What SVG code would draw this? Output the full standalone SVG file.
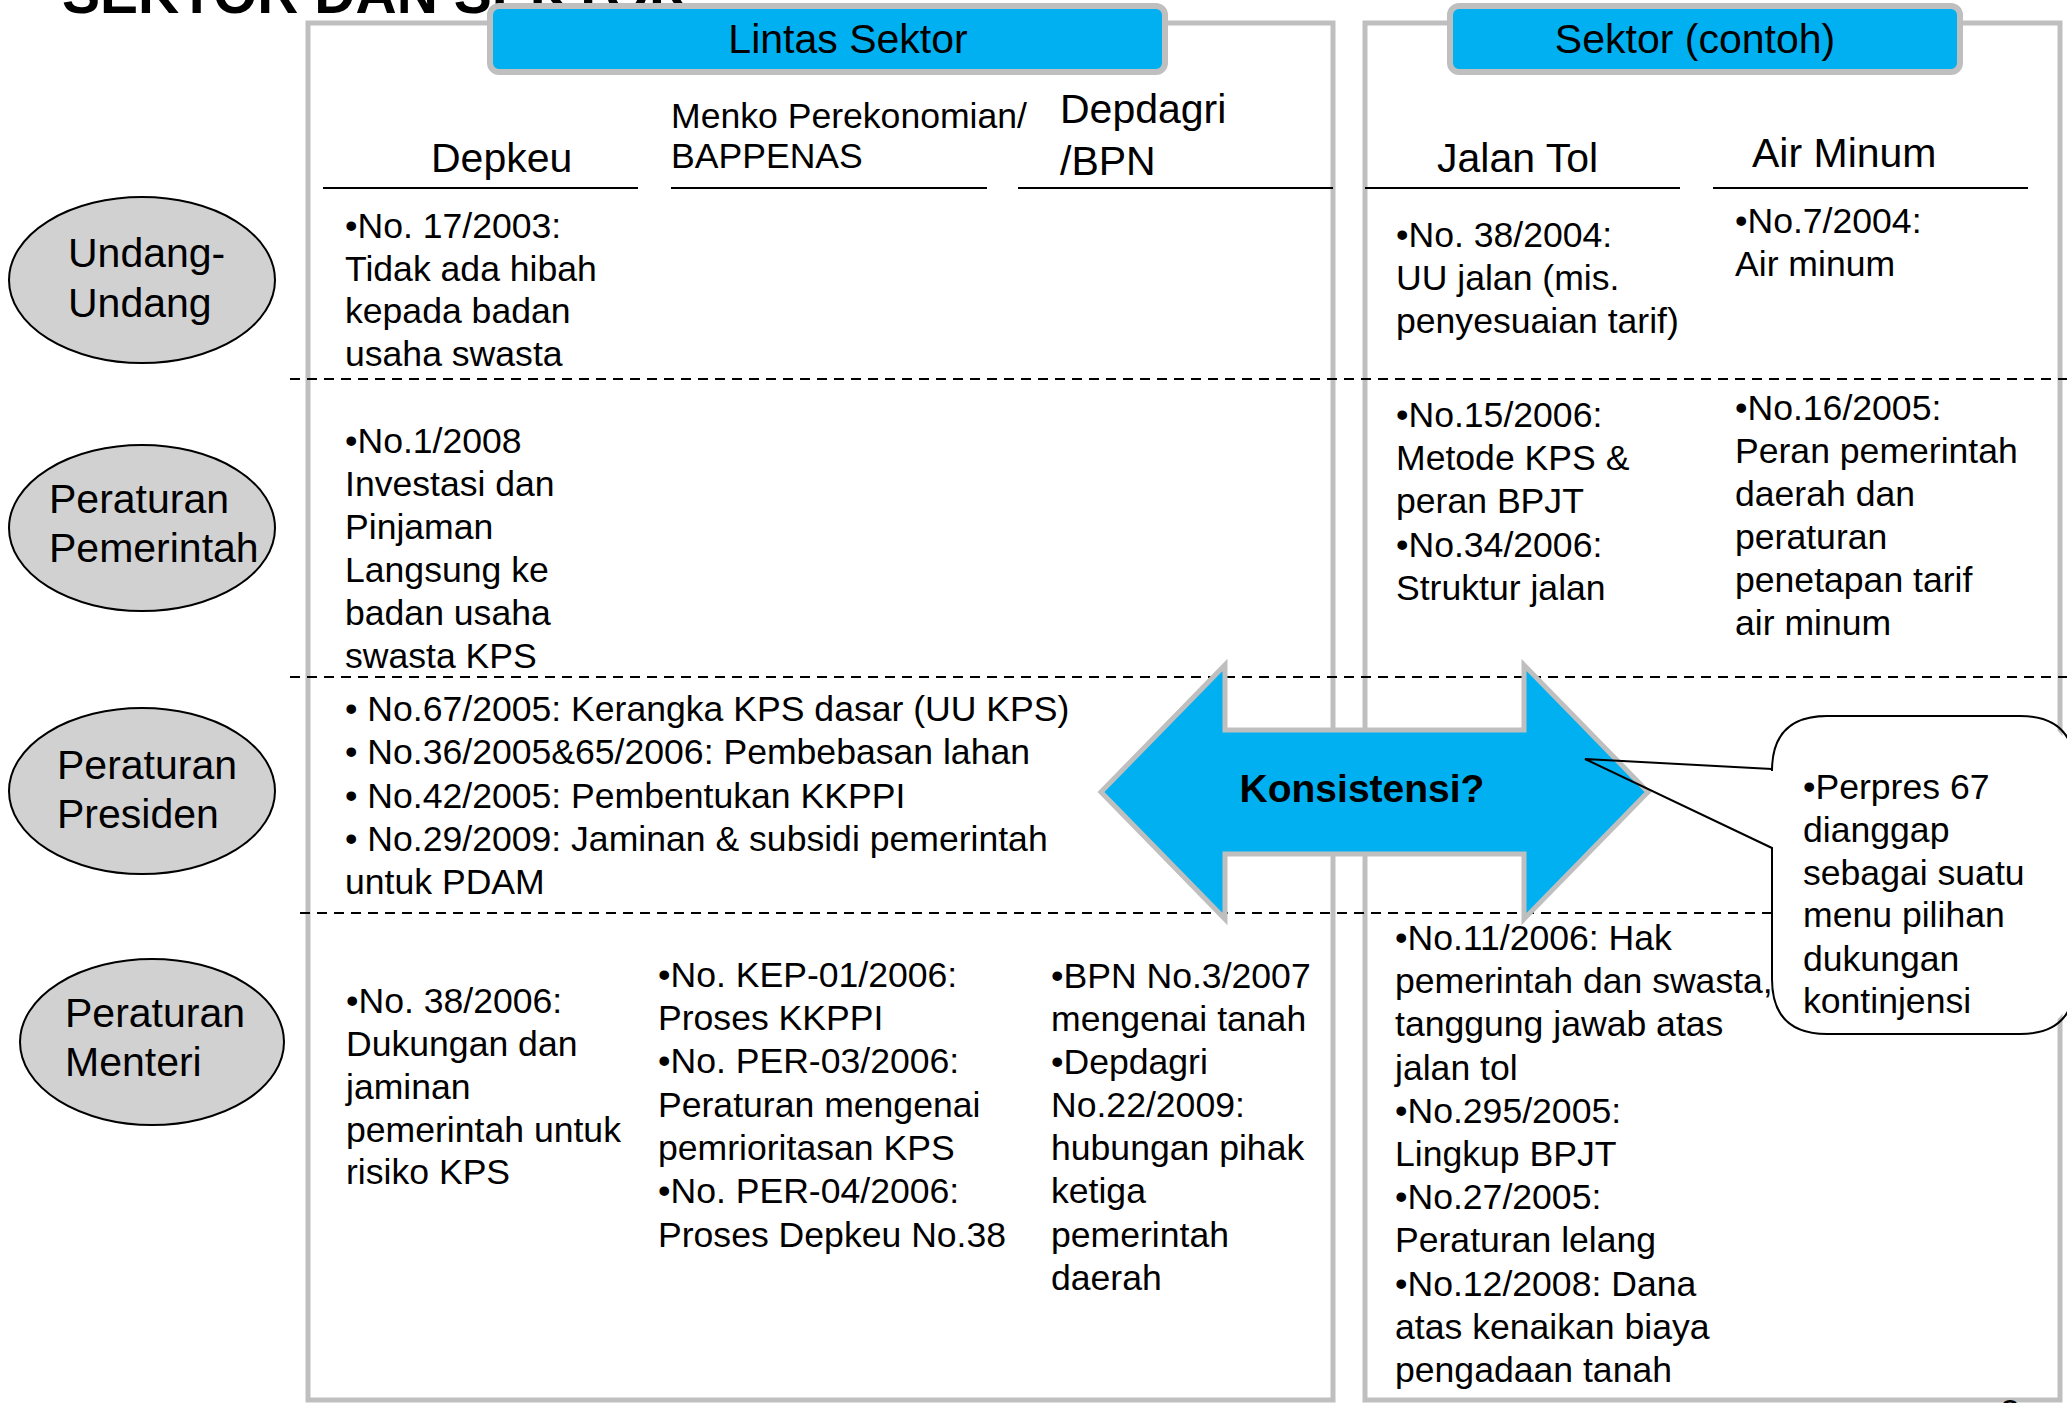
<svg xmlns="http://www.w3.org/2000/svg" width="2067" height="1403" viewBox="0 0 2067 1403">
  <style>
    text { font-family: "Liberation Sans", Arial, sans-serif; fill: #000; }
    .t { font-size: 35.6px; }
    .h { font-size: 41px; }
    .hs { font-size: 35.6px; }
    .title { font-size: 57px; font-weight: bold; }
    .panel { fill: none; stroke: #bfbfbf; stroke-width: 5; }
    .tab { fill: #00b0f0; stroke: #bfbfbf; stroke-width: 6; }
    .rule { stroke: #000; stroke-width: 2; }
    .dash { stroke: #000; stroke-width: 2; stroke-dasharray: 10 7; fill: none; }
    .oval { fill: #d1d1d1; stroke: #000; stroke-width: 2; }
    .arrow { fill: #00b0f0; stroke: #bfbfbf; stroke-width: 5; stroke-linejoin: miter; }
    .callout-bg { fill: #fff; stroke: none; }
    .callout-line { fill: none; stroke: #000; stroke-width: 2; stroke-linejoin: miter; }
    .kons { font-size: 39px; font-weight: bold; }
  </style>

  <rect width="2067" height="1403" fill="#fff"/>

  <!-- slide heading (bottom line only shows) -->
  <g id="title">
    <text class="title" x="62" y="13">SEKTOR DAN SEKTOR</text>
  </g>

  <!-- panel frames -->
  <g id="panel-lintas">
    <rect class="panel" x="308" y="23" width="1025" height="1377"/>
    <rect class="tab" x="490" y="6" width="675" height="66" rx="9"/>
    <text class="h" x="848" y="53" text-anchor="middle">Lintas Sektor</text>
  </g>
  <g id="panel-sektor">
    <rect class="panel" x="1365" y="23" width="695" height="1377"/>
    <rect class="tab" x="1450" y="6" width="510" height="66" rx="9"/>
    <text class="h" x="1695" y="53" text-anchor="middle">Sektor (contoh)</text>
  </g>

  <!-- column headings -->
  <g id="col-depkeu">
    <text class="h" x="431" y="172">Depkeu</text>
    <line class="rule" x1="323" y1="188" x2="638" y2="188"/>
  </g>
  <g id="col-menko">
    <text class="hs" x="671" y="128">Menko Perekonomian/</text>
    <text class="hs" x="671" y="168">BAPPENAS</text>
    <line class="rule" x1="671" y1="188" x2="987" y2="188"/>
  </g>
  <g id="col-depdagri">
    <text class="h" x="1060" y="123">Depdagri</text>
    <text class="h" x="1060" y="175">/BPN</text>
    <line class="rule" x1="1018" y1="188" x2="1333" y2="188"/>
  </g>
  <g id="col-jalantol">
    <text class="h" x="1437" y="172">Jalan Tol</text>
    <line class="rule" x1="1365" y1="188" x2="1680" y2="188"/>
  </g>
  <g id="col-airminum">
    <text class="h" x="1752" y="167">Air Minum</text>
    <line class="rule" x1="1713" y1="188" x2="2028" y2="188"/>
  </g>

  <!-- row separators -->
  <g id="row-separators">
    <line class="dash" x1="290" y1="379" x2="2067" y2="379"/>
    <line class="dash" x1="290" y1="677" x2="2067" y2="677"/>
    <line class="dash" x1="300" y1="913" x2="2067" y2="913"/>
  </g>

  <!-- row labels -->
  <g id="row-uu">
    <ellipse class="oval" cx="142" cy="280" rx="133" ry="83"/>
    <text class="h" x="68" y="267">Undang-</text>
    <text class="h" x="68" y="317">Undang</text>
  </g>
  <g id="row-pp">
    <ellipse class="oval" cx="142" cy="528" rx="133" ry="83"/>
    <text class="h" x="49" y="513">Peraturan</text>
    <text class="h" x="49" y="562">Pemerintah</text>
  </g>
  <g id="row-perpres">
    <ellipse class="oval" cx="142" cy="791" rx="133" ry="83"/>
    <text class="h" x="57" y="779">Peraturan</text>
    <text class="h" x="57" y="828">Presiden</text>
  </g>
  <g id="row-permen">
    <ellipse class="oval" cx="152" cy="1042" rx="132" ry="83"/>
    <text class="h" x="65" y="1027">Peraturan</text>
    <text class="h" x="65" y="1076">Menteri</text>
  </g>

  <!-- cell contents -->
  <g id="cell-uu-depkeu" class="t">
    <text class="t" x="345" y="238">•No. 17/2003:</text>
    <text class="t" x="345" y="281">Tidak ada hibah</text>
    <text class="t" x="345" y="323">kepada badan</text>
    <text class="t" x="345" y="366">usaha swasta</text>
  </g>
  <g id="cell-uu-jalantol">
    <text class="t" x="1396" y="247">•No. 38/2004:</text>
    <text class="t" x="1396" y="290">UU jalan (mis.</text>
    <text class="t" x="1396" y="333">penyesuaian tarif)</text>
  </g>
  <g id="cell-uu-airminum">
    <text class="t" x="1735" y="233">•No.7/2004:</text>
    <text class="t" x="1735" y="276">Air minum</text>
  </g>

  <g id="cell-pp-depkeu">
    <text class="t" x="345" y="453">•No.1/2008</text>
    <text class="t" x="345" y="496">Investasi dan</text>
    <text class="t" x="345" y="539">Pinjaman</text>
    <text class="t" x="345" y="582">Langsung ke</text>
    <text class="t" x="345" y="625">badan usaha</text>
    <text class="t" x="345" y="668">swasta KPS</text>
  </g>
  <g id="cell-pp-jalantol">
    <text class="t" x="1396" y="427">•No.15/2006:</text>
    <text class="t" x="1396" y="470">Metode KPS &amp;</text>
    <text class="t" x="1396" y="513">peran BPJT</text>
    <text class="t" x="1396" y="557">•No.34/2006:</text>
    <text class="t" x="1396" y="600">Struktur jalan</text>
  </g>
  <g id="cell-pp-airminum">
    <text class="t" x="1735" y="420">•No.16/2005:</text>
    <text class="t" x="1735" y="463">Peran pemerintah</text>
    <text class="t" x="1735" y="506">daerah dan</text>
    <text class="t" x="1735" y="549">peraturan</text>
    <text class="t" x="1735" y="592">penetapan tarif</text>
    <text class="t" x="1735" y="635">air minum</text>
  </g>

  <g id="cell-perpres">
    <text class="t" x="345" y="721">• No.67/2005: Kerangka KPS dasar (UU KPS)</text>
    <text class="t" x="345" y="764">• No.36/2005&amp;65/2006: Pembebasan lahan</text>
    <text class="t" x="345" y="808">• No.42/2005: Pembentukan KKPPI</text>
    <text class="t" x="345" y="851">• No.29/2009: Jaminan &amp; subsidi pemerintah</text>
    <text class="t" x="345" y="894">untuk PDAM</text>
  </g>

  <g id="cell-permen-depkeu">
    <text class="t" x="346" y="1013">•No. 38/2006:</text>
    <text class="t" x="346" y="1056">Dukungan dan</text>
    <text class="t" x="346" y="1099">jaminan</text>
    <text class="t" x="346" y="1142">pemerintah untuk</text>
    <text class="t" x="346" y="1184">risiko KPS</text>
  </g>
  <g id="cell-permen-menko">
    <text class="t" x="658" y="987">•No. KEP-01/2006:</text>
    <text class="t" x="658" y="1030">Proses KKPPI</text>
    <text class="t" x="658" y="1073">•No. PER-03/2006:</text>
    <text class="t" x="658" y="1117">Peraturan mengenai</text>
    <text class="t" x="658" y="1160">pemrioritasan KPS</text>
    <text class="t" x="658" y="1203">•No. PER-04/2006:</text>
    <text class="t" x="658" y="1247">Proses Depkeu No.38</text>
  </g>
  <g id="cell-permen-depdagri">
    <text class="t" x="1051" y="988">•BPN No.3/2007</text>
    <text class="t" x="1051" y="1031">mengenai tanah</text>
    <text class="t" x="1051" y="1074">•Depdagri</text>
    <text class="t" x="1051" y="1117">No.22/2009:</text>
    <text class="t" x="1051" y="1160">hubungan pihak</text>
    <text class="t" x="1051" y="1203">ketiga</text>
    <text class="t" x="1051" y="1247">pemerintah</text>
    <text class="t" x="1051" y="1290">daerah</text>
  </g>
  <g id="cell-permen-jalantol">
    <text class="t" x="1395" y="950">•No.11/2006: Hak</text>
    <text class="t" x="1395" y="993">pemerintah dan swasta,</text>
    <text class="t" x="1395" y="1036">tanggung jawab atas</text>
    <text class="t" x="1395" y="1080">jalan tol</text>
    <text class="t" x="1395" y="1123">•No.295/2005:</text>
    <text class="t" x="1395" y="1166">Lingkup BPJT</text>
    <text class="t" x="1395" y="1209">•No.27/2005:</text>
    <text class="t" x="1395" y="1252">Peraturan lelang</text>
    <text class="t" x="1395" y="1296">•No.12/2008: Dana</text>
    <text class="t" x="1395" y="1339">atas kenaikan biaya</text>
    <text class="t" x="1395" y="1382">pengadaan tanah</text>
  </g>

  <!-- double-headed block arrow between the two panels -->
  <g id="connectors">
    <polygon class="arrow" points="1101,792 1225,665 1225,730 1524,730 1524,665 1648,792 1524,919 1524,854 1225,854 1225,919"/>
    <text class="kons" x="1362" y="802" text-anchor="middle">Konsistensi?</text>
  </g>

  <!-- callout note -->
  <g id="callout">
    <rect class="callout-bg" x="1772" y="716" width="303" height="318" rx="55"/>
    <path class="callout-line" d="M1772,769 L1585,759 L1772,848 L1772,979 Q1772,1034 1827,1034 L2020,1034 Q2075,1034 2075,979 L2075,771 Q2075,716 2020,716 L1827,716 Q1772,716 1772,771 Z"/>
    <text class="t" x="1803" y="799">•Perpres 67</text>
    <text class="t" x="1803" y="842">dianggap</text>
    <text class="t" x="1803" y="885">sebagai suatu</text>
    <text class="t" x="1803" y="927">menu pilihan</text>
    <text class="t" x="1803" y="971">dukungan</text>
    <text class="t" x="1803" y="1013">kontinjensi</text>
  </g>

  <!-- slide number, mostly below the page edge -->
  <g id="page-number">
    <text class="t" x="2000" y="1424">2</text>
  </g>
</svg>
